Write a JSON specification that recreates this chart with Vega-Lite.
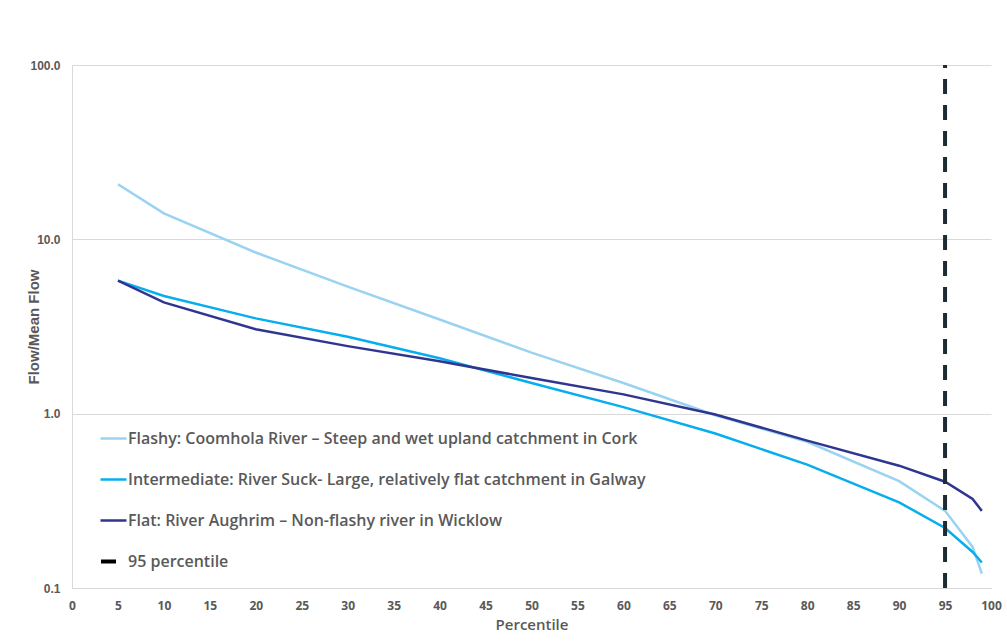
{
  "$schema": "https://vega.github.io/schema/vega-lite/v6.json",
  "width": 919,
  "height": 523,
  "autosize": {"type": "none"},
  "padding": {"left": 72, "top": 65, "right": 16, "bottom": 56},
  "background": "#ffffff",
  "config": {"view": {"stroke": null}, "font": "Open Sans"},
  "layer": [
    {
      "data": {
        "values": [
          {"percentile": 5, "flow": 20.7, "series": "Flashy: Coomhola River – Steep and wet upland catchment in Cork"},
          {"percentile": 10, "flow": 14.1, "series": "Flashy: Coomhola River – Steep and wet upland catchment in Cork"},
          {"percentile": 20, "flow": 8.4, "series": "Flashy: Coomhola River – Steep and wet upland catchment in Cork"},
          {"percentile": 30, "flow": 5.35, "series": "Flashy: Coomhola River – Steep and wet upland catchment in Cork"},
          {"percentile": 40, "flow": 3.47, "series": "Flashy: Coomhola River – Steep and wet upland catchment in Cork"},
          {"percentile": 50, "flow": 2.24, "series": "Flashy: Coomhola River – Steep and wet upland catchment in Cork"},
          {"percentile": 60, "flow": 1.5, "series": "Flashy: Coomhola River – Steep and wet upland catchment in Cork"},
          {"percentile": 70, "flow": 0.98, "series": "Flashy: Coomhola River – Steep and wet upland catchment in Cork"},
          {"percentile": 80, "flow": 0.69, "series": "Flashy: Coomhola River – Steep and wet upland catchment in Cork"},
          {"percentile": 90, "flow": 0.41, "series": "Flashy: Coomhola River – Steep and wet upland catchment in Cork"},
          {"percentile": 95, "flow": 0.277, "series": "Flashy: Coomhola River – Steep and wet upland catchment in Cork"},
          {"percentile": 98, "flow": 0.172, "series": "Flashy: Coomhola River – Steep and wet upland catchment in Cork"},
          {"percentile": 99, "flow": 0.121, "series": "Flashy: Coomhola River – Steep and wet upland catchment in Cork"},
          {"percentile": 5, "flow": 5.8, "series": "Intermediate: River Suck- Large, relatively flat catchment in Galway"},
          {"percentile": 10, "flow": 4.73, "series": "Intermediate: River Suck- Large, relatively flat catchment in Galway"},
          {"percentile": 20, "flow": 3.52, "series": "Intermediate: River Suck- Large, relatively flat catchment in Galway"},
          {"percentile": 30, "flow": 2.76, "series": "Intermediate: River Suck- Large, relatively flat catchment in Galway"},
          {"percentile": 40, "flow": 2.08, "series": "Intermediate: River Suck- Large, relatively flat catchment in Galway"},
          {"percentile": 50, "flow": 1.5, "series": "Intermediate: River Suck- Large, relatively flat catchment in Galway"},
          {"percentile": 60, "flow": 1.09, "series": "Intermediate: River Suck- Large, relatively flat catchment in Galway"},
          {"percentile": 70, "flow": 0.77, "series": "Intermediate: River Suck- Large, relatively flat catchment in Galway"},
          {"percentile": 80, "flow": 0.51, "series": "Intermediate: River Suck- Large, relatively flat catchment in Galway"},
          {"percentile": 90, "flow": 0.31, "series": "Intermediate: River Suck- Large, relatively flat catchment in Galway"},
          {"percentile": 95, "flow": 0.221, "series": "Intermediate: River Suck- Large, relatively flat catchment in Galway"},
          {"percentile": 98, "flow": 0.161, "series": "Intermediate: River Suck- Large, relatively flat catchment in Galway"},
          {"percentile": 99, "flow": 0.14, "series": "Intermediate: River Suck- Large, relatively flat catchment in Galway"},
          {"percentile": 5, "flow": 5.8, "series": "Flat: River Aughrim – Non-flashy river in Wicklow"},
          {"percentile": 10, "flow": 4.35, "series": "Flat: River Aughrim – Non-flashy river in Wicklow"},
          {"percentile": 20, "flow": 3.05, "series": "Flat: River Aughrim – Non-flashy river in Wicklow"},
          {"percentile": 30, "flow": 2.44, "series": "Flat: River Aughrim – Non-flashy river in Wicklow"},
          {"percentile": 40, "flow": 2.0, "series": "Flat: River Aughrim – Non-flashy river in Wicklow"},
          {"percentile": 50, "flow": 1.6, "series": "Flat: River Aughrim – Non-flashy river in Wicklow"},
          {"percentile": 60, "flow": 1.29, "series": "Flat: River Aughrim – Non-flashy river in Wicklow"},
          {"percentile": 70, "flow": 0.99, "series": "Flat: River Aughrim – Non-flashy river in Wicklow"},
          {"percentile": 80, "flow": 0.7, "series": "Flat: River Aughrim – Non-flashy river in Wicklow"},
          {"percentile": 90, "flow": 0.503, "series": "Flat: River Aughrim – Non-flashy river in Wicklow"},
          {"percentile": 95, "flow": 0.407, "series": "Flat: River Aughrim – Non-flashy river in Wicklow"},
          {"percentile": 98, "flow": 0.324, "series": "Flat: River Aughrim – Non-flashy river in Wicklow"},
          {"percentile": 99, "flow": 0.277, "series": "Flat: River Aughrim – Non-flashy river in Wicklow"}
        ]
      },
      "mark": {"type": "line", "strokeWidth": 2.5},
      "encoding": {
        "x": {
          "field": "percentile",
          "type": "quantitative",
          "scale": {"domain": [0, 100], "nice": false},
          "axis": {
            "title": "Percentile",
            "values": [0, 5, 10, 15, 20, 25, 30, 35, 40, 45, 50, 55, 60, 65, 70, 75, 80, 85, 90, 95, 100],
            "grid": false,
            "ticks": false,
            "labelFlush": false,
            "domainColor": "#d9d9d9",
            "labelFont": "Open Sans",
            "labelFontWeight": "bold",
            "labelFontSize": 12,
            "labelColor": "#595959",
            "labelPadding": 12,
            "titleFont": "Open Sans",
            "titleFontSize": 15,
            "titleFontWeight": 600,
            "titleColor": "#595959",
            "titlePadding": 6
          }
        },
        "y": {
          "field": "flow",
          "type": "quantitative",
          "scale": {"type": "log", "domain": [0.1, 100], "nice": false},
          "axis": {
            "title": "Flow/Mean Flow",
            "values": [0.1, 1, 10, 100],
            "format": ".1f",
            "grid": true,
            "gridColor": "#d9d9d9",
            "ticks": false,
            "domainColor": "#d9d9d9",
            "labelFont": "Liberation Sans",
            "labelFontWeight": "bold",
            "labelFontSize": 12,
            "labelColor": "#595959",
            "labelPadding": 12,
            "titleFont": "Liberation Sans",
            "titleFontSize": 15,
            "titleFontWeight": "bold",
            "titleColor": "#595959",
            "titleX": -31
          }
        },
        "color": {
          "field": "series",
          "type": "nominal",
          "scale": {
            "domain": [
              "Flashy: Coomhola River – Steep and wet upland catchment in Cork",
              "Intermediate: River Suck- Large, relatively flat catchment in Galway",
              "Flat: River Aughrim – Non-flashy river in Wicklow"
            ],
            "range": ["#9ad3f1", "#06aeed", "#2e3690"]
          },
          "legend": {
            "title": null,
            "orient": "none",
            "legendX": 27,
            "legendY": 359,
            "direction": "vertical",
            "symbolType": "stroke",
            "symbolSize": 676,
            "symbolStrokeWidth": 2.5,
            "labelFont": "Open Sans",
            "labelFontSize": 16,
            "labelFontWeight": 600,
            "labelColor": "#595959",
            "labelOffset": 0,
            "labelLimit": 800,
            "rowPadding": 18,
            "padding": 0
          }
        }
      }
    },
    {
      "data": {"values": [{"percentile": 95, "label": "95 percentile"}]},
      "mark": {"type": "rule", "color": "#1e2b33", "strokeWidth": 4, "strokeDashOffset": 12},
      "encoding": {
        "x": {"field": "percentile", "type": "quantitative"},
        "strokeDash": {
          "field": "label",
          "type": "nominal",
          "scale": {"domain": ["95 percentile"], "range": [[15, 11]]},
          "legend": {
            "title": null,
            "orient": "none",
            "legendX": 27,
            "legendY": 487,
            "symbolType": "stroke",
            "symbolSize": 225,
            "symbolStrokeWidth": 4,
            "symbolStrokeColor": "#000000",
            "labelFont": "Open Sans",
            "labelFontSize": 16,
            "labelFontWeight": 600,
            "labelColor": "#595959",
            "labelOffset": 10,
            "padding": 0
          }
        }
      }
    }
  ]
}
